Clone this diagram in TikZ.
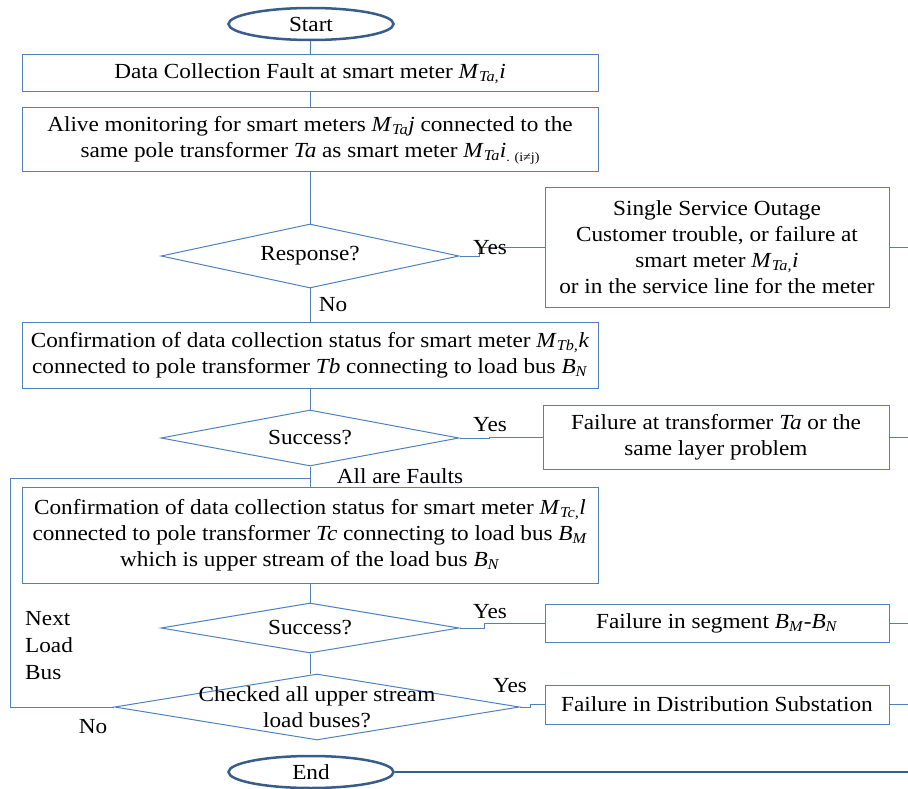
\documentclass[tikz,border=0pt]{standalone}
\usepackage{fontspec}
\setmainfont[FakeStretch=1.08]{Liberation Serif}
\usetikzlibrary{shapes.geometric}
\definecolor{boxblue}{RGB}{79,129,189}
\definecolor{termblue}{RGB}{56,93,138}
\newcommand\meter[2]{\textit{M}\textsubscript{\textit{#1}}\textit{#2}}
\newcommand\bus[1]{\textit{B}\textsubscript{\textit{#1}}}
\tikzset{
  txt/.style={font=\fontsize{21.5}{26}\selectfont},
  proc/.style={txt, draw=boxblue, line width=1pt, align=center, inner sep=0pt},
  dec/.style={draw=boxblue, line width=1pt, diamond, inner sep=0pt},
  term/.style={txt, draw=termblue, line width=2.5pt, ellipse, inner sep=0pt,
               minimum width=165pt, minimum height=32pt},
  link/.style={draw=boxblue, line width=1pt},
  endlink/.style={draw=termblue, line width=2.2pt},
  lbl/.style={txt, inner sep=0pt}
}
\begin{document}
\begin{tikzpicture}[x=1pt, y=-1pt]
\useasboundingbox (0,0) rectangle (908,789);
\coordinate (edge) at (908,0);
\coordinate (lp) at (10,478);

% terminals
\node[term] (start) at (311,24) {Start};
\node[term] (end) at (311,772) {End};

% process boxes
\node[proc, minimum width=576pt, minimum height=37pt] (b1) at (310,73.5)
  {Data Collection Fault at smart meter \meter{Ta,}{i}};
\node[proc, minimum width=576pt, minimum height=64pt] (b2) at (310,140)
  {Alive monitoring for smart meters \meter{Ta}{j} connected to the\\
   same pole transformer \textit{Ta} as smart meter \meter{Ta}{i}\raisebox{-4pt}{\fontsize{13}{14}\selectfont . (i≠j)}};
\node[proc, minimum width=344pt, minimum height=119pt] (sso) at (717,247.5)
  {Single Service Outage\\Customer trouble, or failure at\\smart meter \meter{Ta,}{i}\\or in the service line for the meter};
\node[proc, minimum width=576pt, minimum height=66pt] (b3) at (310,355)
  {Confirmation of data collection status for smart meter \meter{Tb,}{k}\\
   connected to pole transformer \textit{Tb} connecting to load bus \bus{N}};
\node[proc, minimum width=346pt, minimum height=64pt] (fta) at (716,437)
  {Failure at transformer \textit{Ta} or the\\same layer problem};
\node[proc, minimum width=576pt, minimum height=96pt] (b4) at (310,535)
  {Confirmation of data collection status for smart meter \meter{Tc,}{l}\\
   connected to pole transformer \textit{Tc} connecting to load bus \bus{M}\\
   which is upper stream of the load bus \bus{N}};
\node[proc, minimum width=344pt, minimum height=38pt] (seg) at (717,623)
  {Failure in segment \bus{M}-\bus{N}};
\node[proc, minimum width=344pt, minimum height=39pt] (ds) at (717,704.5)
  {Failure in Distribution Substation};

% decisions
\node[dec, minimum width=298pt, minimum height=64pt,
      label={[lbl]center:Response?}] (d1) at (310,256) {};
\node[dec, minimum width=298pt, minimum height=56pt,
      label={[lbl]center:Success?}] (d2) at (310,438) {};
\node[dec, minimum width=298pt, minimum height=50pt,
      label={[lbl]center:Success?}] (d3) at (310,628) {};
\node[dec, minimum width=405pt, minimum height=66pt,
      label={[lbl, align=center]center:Checked all upper stream\\load buses?}] (d4) at (317,707) {};

% connectors
\draw[link] (start) -- (b1);
\draw[link] (b1) -- (b2);
\draw[link] (b2) -- (d1);
\draw[link] (d1.east) -- ++(20,0) |- (sso.west);
\draw[link] (sso.east) -- (sso.east -| edge);
\draw[link] (d1) -- (b3);
\draw[link] (b3) -- (d2);
\draw[link] (d2.east) -- ++(30,0) |- (fta.west);
\draw[link] (fta.east) -- (fta.east -| edge);
\draw[link] (d2) -- (b4);
\draw[link] (d4.west) -| (lp) -- (lp -| d2.south);
\draw[link] (b4) -- (d3);
\draw[link] (d3.east) -- ++(25,0) |- (seg.west);
\draw[link] (seg.east) -- (seg.east -| edge);
\draw[link] (d3.south) -- (d4.north -| d3.south);
\draw[link] (d4.east) -- ++(10,0) |- (ds.west);
\draw[link] (ds.east) -- (ds.east -| edge);
\draw[endlink] (end.east) -- (end.east -| edge);

% branch labels
\node[lbl] (y1) at (490,248) {Yes};
\node[lbl] (n1) at (333,305) {No};
\node[lbl] (y2) at (490,425) {Yes};
\node[lbl] (af) at (400,476) {All are Faults};
\node[lbl] (y3) at (490,612) {Yes};
\node[lbl] (y4) at (510,686) {Yes};
\node[lbl] (n4) at (93,727) {No};
\node[lbl, align=left, anchor=north west, font=\fontsize{21.5}{27}\selectfont] (nlb) at (25,611) {Next\\Load\\Bus};
\end{tikzpicture}
\end{document}
